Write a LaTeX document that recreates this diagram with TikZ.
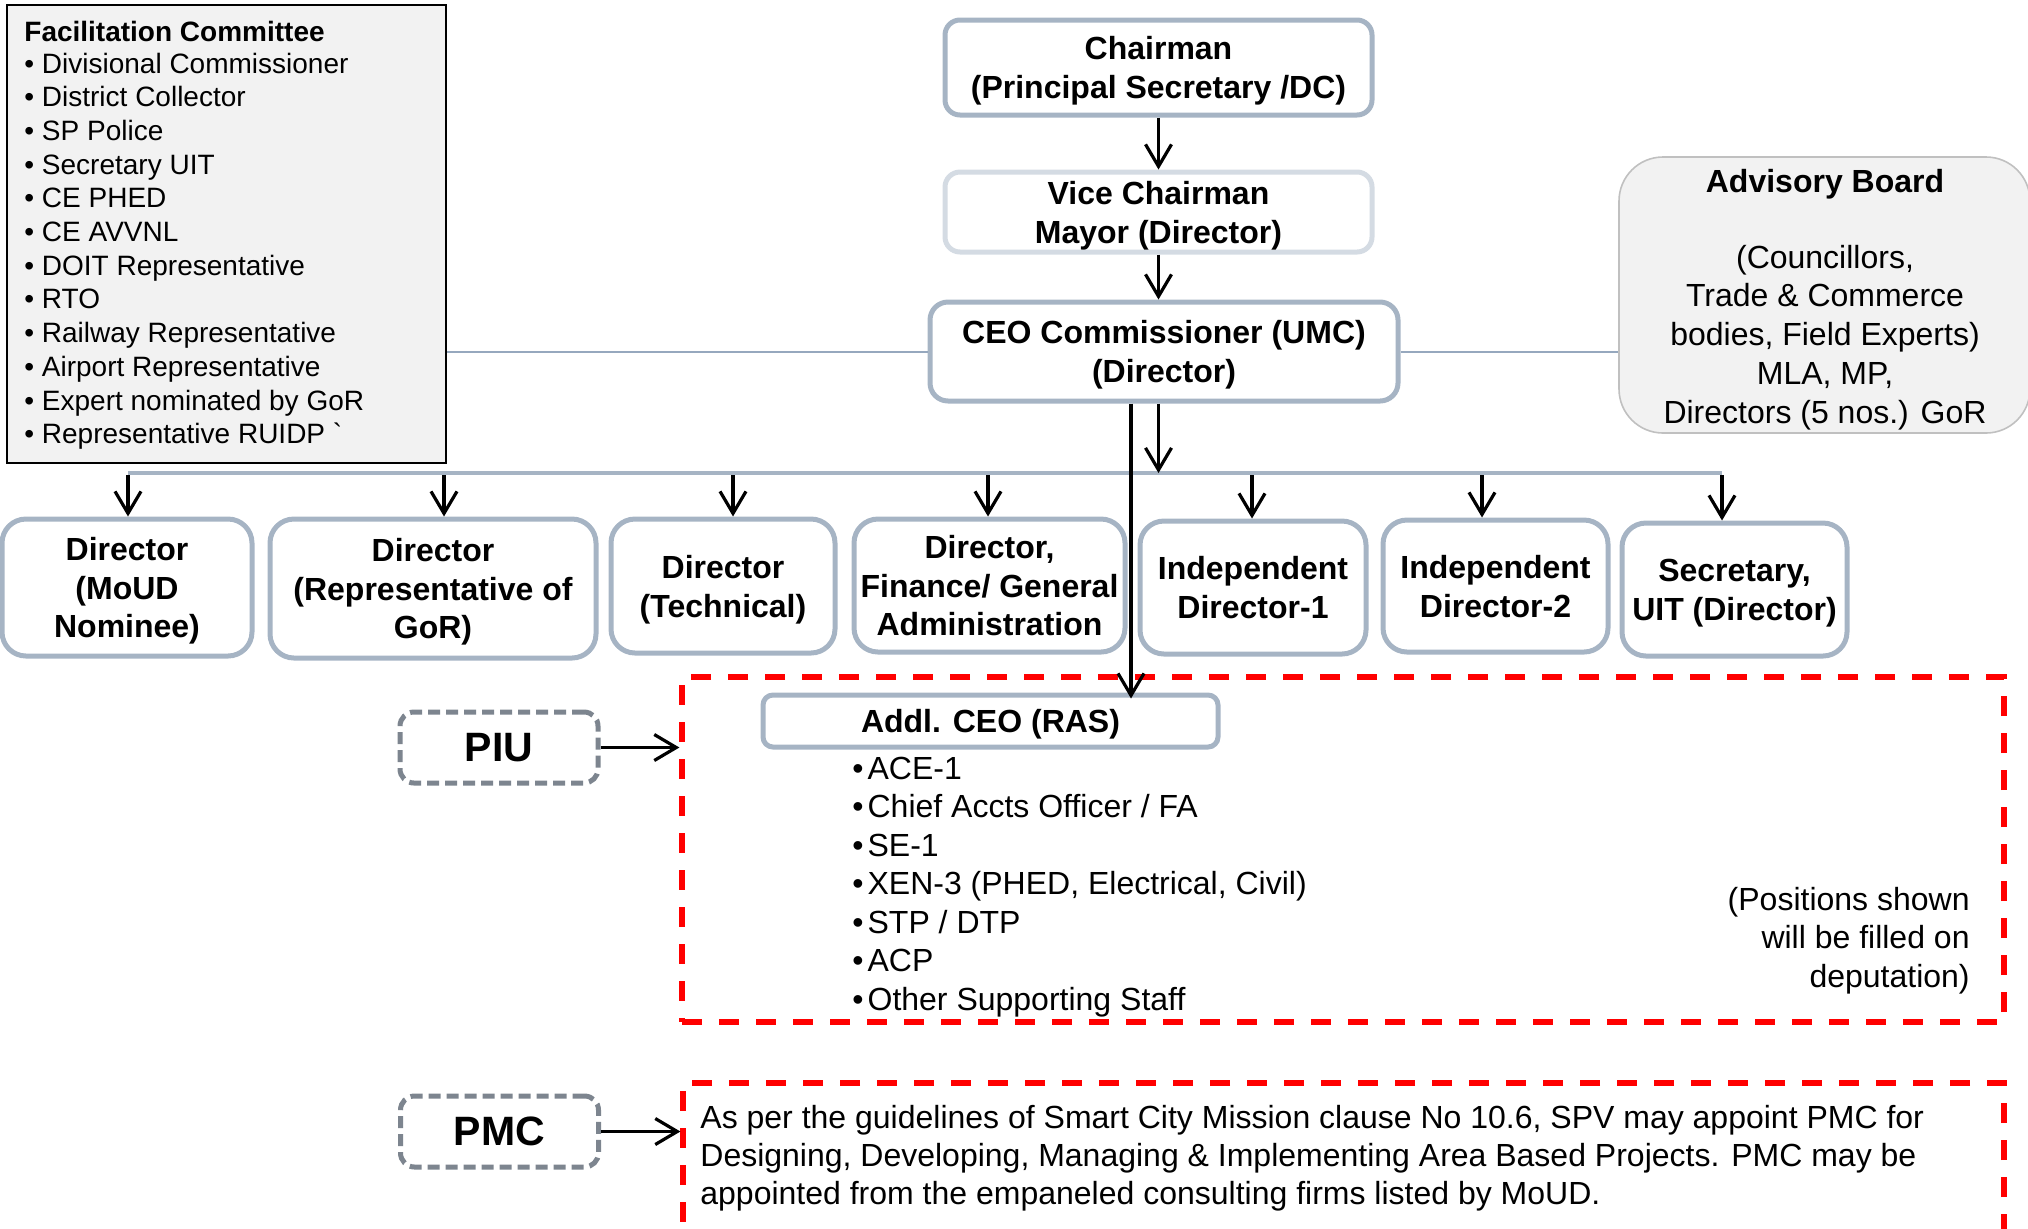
\documentclass[tikz,border=0pt]{standalone}
\usepackage{fontspec}
\setmainfont{Liberation Sans}
\usetikzlibrary{arrows.meta}
\definecolor{boxline}{RGB}{166,180,196}
\definecolor{boxlight}{RGB}{212,219,227}
\definecolor{panel}{RGB}{242,242,242}
\definecolor{panelline}{RGB}{192,192,192}
\definecolor{dashgray}{RGB}{125,133,143}
\definecolor{connline}{RGB}{150,168,190}
\definecolor{redd}{RGB}{255,0,0}
\begin{document}
\begin{tikzpicture}[x=0.5pt,y=-0.5pt,
  boldtext/.style={font=\fontsize{16}{19.4}\selectfont\bfseries},
  orgbox/.style={draw=boxline, line width=2.5pt, rounded corners=12pt, fill=white,
    align=center, inner sep=0pt, text depth=0pt, boldtext},
  tagbox/.style={draw=dashgray, line width=2.5pt, rounded corners=7pt, fill=white,
    dash pattern=on 6pt off 3pt, inner sep=0pt, minimum width=99pt, minimum height=35.5pt,
    font=\fontsize{20.5}{24}\selectfont\bfseries},
  redarea/.style={draw=redd, line width=2.6pt, dash pattern=on 10pt off 8.5pt, inner sep=0pt},
  arr/.style={draw=black, line width=1.6pt, -{Straight Barb[length=11pt,width=13pt]}},
  facline/.style={font=\fontsize{14}{16}\selectfont, anchor=base west, inner sep=0pt},
  bodyline/.style={font=\fontsize{16}{19}\selectfont, inner sep=0pt},
  busline/.style={draw=boxline, line width=1.7pt},
  thinline/.style={draw=connline, line width=1pt}
]
\clip (0,0) rectangle (2028,1228);

% Facilitation committee panel
\node[draw=black, line width=1.2pt, fill=panel, minimum width=219.5pt, minimum height=229pt, inner sep=0pt] (fac) at (226.5,234) {};
\node[facline, font=\fontsize{14}{16}\selectfont\bfseries] (factitle) at (24,41) {Facilitation Committee};
\foreach \t [count=\i] in {Divisional Commissioner, District Collector, SP Police, Secretary UIT,
  CE PHED, CE AVVNL, DOIT Representative, RTO, Railway Representative, Airport Representative,
  Expert nominated by GoR, Representative RUIDP \textasciigrave}
  \node[facline] (fc\i) at (24,{73+33.7*(\i-1)}) {• \t};

% Advisory board
\node[draw=panelline, line width=0.8pt, fill=panel, rounded corners=22pt, minimum width=205.5pt, minimum height=138pt, inner sep=0pt] (adv) at (1824.5,295) {};
\node[bodyline, font=\fontsize{16}{19}\selectfont\bfseries, anchor=base] (advtitle) at (1825,192) {Advisory Board};
\node[bodyline, anchor=base] (adv1) at (1825,268) {(Councillors,};
\node[bodyline, anchor=base] (adv2) at (1825,306.8) {Trade \& Commerce};
\node[bodyline, anchor=base] (adv3) at (1825,345.6) {bodies, Field Experts)};
\node[bodyline, anchor=base] (adv4) at (1825,384.4) {MLA, MP,};
\node[bodyline, anchor=base] (adv5) at (1825,423) {Directors (5 nos.) GoR};

% Top chain
\node[orgbox, rounded corners=7.5pt, minimum width=213.5pt, minimum height=47.5pt] (chair) at (1158.5,67.5) {Chairman\\(Principal Secretary /DC)};
\node[orgbox, draw=boxlight, rounded corners=7.5pt, minimum width=213.5pt, minimum height=40pt] (vice) at (1158.5,212) {Vice Chairman\\Mayor (Director)};
\node[orgbox, rounded corners=9pt, minimum width=234pt, minimum height=49.5pt] (ceo) at (1164,351.5) {CEO Commissioner (UMC)\\(Director)};

% Director row
\node[orgbox, minimum width=125pt, minimum height=68.5pt] (d1) at (127,587.5) {Director\\(MoUD\\Nominee)};
\node[orgbox, minimum width=163pt, minimum height=69.5pt] (d2) at (433,588.5) {Director\\(Representative of\\GoR)};
\node[orgbox, minimum width=112pt, minimum height=67pt] (d3) at (723,586) {Director\\(Technical)};
\node[orgbox, minimum width=135.5pt, minimum height=66.5pt] (d4) at (989.5,585.5) {Director,\\Finance/ General\\Administration};
\node[orgbox, minimum width=113pt, minimum height=66.5pt] (d5) at (1253,587.5) {Independent\\Director-1};
\node[orgbox, minimum width=112.5pt, minimum height=66pt] (d6) at (1495.5,586) {Independent\\Director-2};
\node[orgbox, minimum width=112.5pt, minimum height=66.5pt] (d7) at (1734.5,589.5) {Secretary,\\UIT (Director)};

% Red dashed areas
\node[redarea, minimum width=661pt, minimum height=172.5pt] (piuarea) at (1343,849.5) {};
\node[redarea, minimum width=660.5pt, minimum height=81pt] (pmcarea) at (1343.5,1164) {};

% PIU / PMC tags
\node[tagbox] (piu) at (499,747.5) {PIU};
\node[tagbox] (pmc) at (499.5,1131.5) {PMC};

% Addl CEO
\node[orgbox, rounded corners=5pt, minimum width=227.5pt, minimum height=26pt] (addl) at (990.5,721) {Addl. CEO (RAS)};
\foreach \t [count=\i] in {ACE-1, Chief Accts Officer / FA, SE-1, {XEN-3 (PHED, Electrical, Civil)},
  STP / DTP, ACP, Other Supporting Staff}
  \node[bodyline, anchor=base west] (li\i) at (852,{779+38.5*(\i-1)}) {•\kern2pt\t};
\node[bodyline, anchor=base east] (pos1) at (1970,910) {(Positions shown};
\node[bodyline, anchor=base east] (pos2) at (1970,948) {will be filled on};
\node[bodyline, anchor=base east] (pos3) at (1970,987) {deputation)};

% PMC text
\node[bodyline, anchor=base west] (pm1) at (700,1128) {As per the guidelines of Smart City Mission clause No 10.6, SPV may appoint PMC for};
\node[bodyline, anchor=base west] (pm2) at (700,1166) {Designing, Developing, Managing \& Implementing Area Based Projects. PMC may be};
\node[bodyline, anchor=base west] (pm3) at (700,1204) {appointed from the empaneled consulting firms listed by MoUD.};

% Connectors
\draw[thinline] (ceo.west) -- (ceo.west -| fac.east);
\draw[thinline] (ceo.east) -- (ceo.east -| adv.west);
\draw[arr] (chair.south) -- (vice.north);
\draw[arr] (vice.south) -- (vice.south |- ceo.north);

\coordinate (busL) at (128,473);
\coordinate (busR) at (1722,473);
\draw[busline] (busL) -- (busR);
\coordinate (busC) at (1158.5,473);
\draw[arr] (busC |- ceo.south) -- (busC);
\foreach \n/\x in {d1/128, d2/444, d3/733, d4/988, d5/1252, d6/1482, d7/1722} {
  \coordinate (t\n) at (\x,475);
  \draw[arr] (t\n) -- (t\n |- \n.north);
}
\coordinate (vx) at (1131,0);
\draw[arr] (vx |- ceo.south) -- ([yshift=-3pt]vx |- addl.north);

\draw[arr] (piu.east) -- (piu.east -| piuarea.west);
\draw[arr] (pmc.east) -- (pmc.east -| pmcarea.west);
\end{tikzpicture}
\end{document}
